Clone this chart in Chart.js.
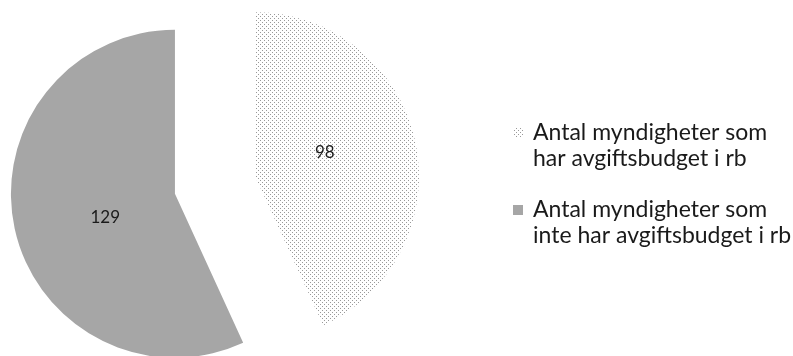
<!DOCTYPE html>
<html><head>
<meta charset="UTF-8">
<script src="https://cdn.jsdelivr.net/npm/chart.js@4.4.7/dist/chart.umd.min.js"></script>
<style>
*{margin:0;padding:0;box-sizing:border-box}
html,body{width:793px;height:356px;background:#fff;overflow:hidden}
canvas{display:block}
</style></head><body>
<canvas id="ch" width="793" height="356"></canvas>
<script>
// data
const categories = [
  ['Antal myndigheter som', 'har avgiftsbudget i rb'],
  ['Antal myndigheter som', 'inte har avgiftsbudget i rb']
];
const values = [98, 129];

const EXPLODE = 41;   // px each slice is pulled out
const FONT = 'Lato, "Open Sans", sans-serif';

const cv = document.getElementById('ch');
const ctx = cv.getContext('2d');

function dotPattern() {
  const c = document.createElement('canvas');
  c.width = 4; c.height = 4;
  const g = c.getContext('2d');
  g.fillStyle = '#fff'; g.fillRect(0, 0, 4, 4);
  g.fillStyle = '#999';
  g.fillRect(0, 0, 1, 1); g.fillRect(2, 2, 1, 1);
  return ctx.createPattern(c, 'repeat');
}
const fills = [dotPattern(), '#a6a6a6'];

// pull slices apart along their bisector (Excel style explosion)
const explode = {
  id: 'explode',
  afterDatasetUpdate(chart, args) {
    chart.getDatasetMeta(args.index).data.forEach(function(arc) {
      const mid = (arc.startAngle + arc.endAngle) / 2;
      arc.x += Math.cos(mid) * EXPLODE;
      arc.y += Math.sin(mid) * EXPLODE;
    });
  }
};

const sliceLabels = {
  id: 'sliceLabels',
  afterDatasetsDraw(chart) {
    const c = chart.ctx;
    c.save();
    c.font = '17px ' + FONT;
    c.fillStyle = '#1a1a1a';
    c.textAlign = 'center';
    c.textBaseline = 'middle';
    chart.getDatasetMeta(0).data.forEach(function(arc, i) {
      const mid = (arc.startAngle + arc.endAngle) / 2 - 0.12;
      const r = arc.outerRadius * 0.45;
      c.fillText(String(values[i]), arc.x + Math.cos(mid) * r, arc.y + Math.sin(mid) * r);
    });
    c.restore();
  }
};

const sideLegend = {
  id: 'sideLegend',
  afterDraw(chart) {
    const c = chart.ctx;
    c.save();
    c.font = '20px ' + FONT;
    const w = c.measureText(categories[0][0]).width;
    const size = 20 * 234 / w;
    c.font = size.toFixed(1) + 'px ' + FONT;
    c.textBaseline = 'middle';
    let y = 133;
    categories.forEach(function(lines, i) {
      c.fillStyle = fills[i];
      c.fillRect(513, y - 5, 10, 10);
      c.fillStyle = '#1a1a1a';
      lines.forEach(function(t, j) {
        c.fillText(t, 533, y + j * 25.5);
      });
      y += 77;
    });
    c.restore();
  }
};

new Chart(cv, {
  type: 'pie',
  data: {
    labels: categories,
    datasets: [{
      data: values,
      backgroundColor: fills,
      borderWidth: 0
    }]
  },
  options: {
    responsive: false,
    animation: false,
    radius: 164,
    layout: { padding: { left: 0, right: 363, top: 14, bottom: 0 } },
    plugins: { legend: { display: false }, tooltip: { enabled: false } }
  },
  plugins: [explode, sliceLabels, sideLegend]
});
</script></body></html>
